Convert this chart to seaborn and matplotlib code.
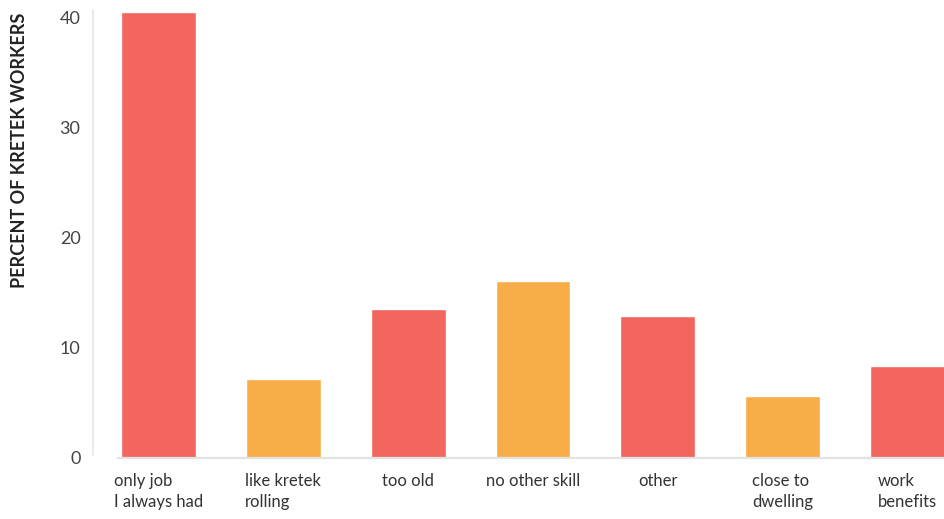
import matplotlib
matplotlib.use("Agg")
import matplotlib.pyplot as plt
import seaborn as sns
import pandas as pd

# Reasons kretek workers give for staying in the job
categories = ["only job\nI always had", "like kretek\nrolling", "too old",
              "no other skill", "other", "close to\ndwelling", "work\nbenefits"]
percent = [40.5, 7.15, 13.5, 16.05, 12.9, 5.6, 8.3]
bar_colors = ["#F2665E", "#F9AD48", "#F2665E", "#F9AD48",
              "#F2665E", "#F9AD48", "#F2665E"]
y_ticks = [0, 10, 20, 30, 40]

sns.set_theme(style="white")
plt.rcParams["font.family"] = ["Lato", "DejaVu Sans"]

df = pd.DataFrame({"reason": categories, "percent": percent})

fig = plt.figure(figsize=(9.45, 5.19), dpi=100)
ax = fig.add_axes([118 / 945, 0.1181, 1 - 118 / 945, 0.869])

sns.barplot(data=df, x="reason", y="percent", hue="reason",
            palette=bar_colors, width=0.6, legend=False, ax=ax,
            saturation=1)

ax.set_xlim(-0.324, 6.3)
ax.set_ylim(0, 41)
ax.set_yticks(y_ticks)
ax.set_xlabel("")
ax.set_ylabel("")

for s in ["top", "right"]:
    ax.spines[s].set_visible(False)
ax.spines["bottom"].set_color("#e2e2e2")
ax.spines["bottom"].set_linewidth(1.6)
ax.spines["left"].set_position(("outward", 18))
ax.spines["left"].set_bounds(0.25, 40.7)
ax.spines["left"].set_color("#e6e6e6")
ax.spines["left"].set_linewidth(1.2)

ax.tick_params(axis="y", length=0, pad=9, labelsize=13, labelcolor="#444444")
ax.tick_params(axis="x", length=0, pad=11, labelsize=12, labelcolor="#333333")
for lab in ax.get_xticklabels():
    lab.set_multialignment("left")
    lab.set_verticalalignment("top")
    lab.set_linespacing(1.4)

fig.text(20 / 945, 1 - 150 / 519, "PERCENT OF KRETEK WORKERS", rotation=90,
         ha="center", va="center", fontsize=13, fontweight="bold",
         color="#222222")

fig.savefig("out.png", dpi=100)
